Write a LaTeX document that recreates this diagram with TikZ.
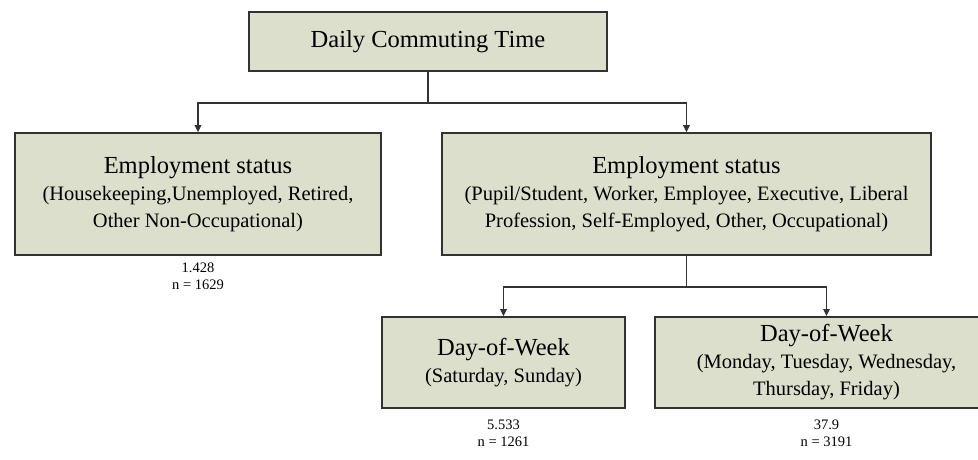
\documentclass[tikz,border=0pt]{standalone}
\usepackage{fontspec}
\setmainfont{Liberation Serif}
\usetikzlibrary{arrows.meta}
\definecolor{boxfill}{RGB}{221,223,205}
\definecolor{boxline}{RGB}{50,50,50}
\tikzset{
  boxshape/.style={draw=boxline, line width=1.6pt, fill=boxfill},
  box/.style={boxshape, align=center, inner sep=0pt,
    font=\fontsize{20.5}{27}\selectfont},
  boxtext/.style={align=center, inner sep=0pt,
    font=\fontsize{20.5}{27}\selectfont},
  conn/.style={draw=boxline, line width=1.4pt},
  arr/.style={conn, -{Triangle[length=7pt,width=6.5pt]}},
  stat/.style={align=center, inner sep=0pt, font=\fontsize{14.5}{17}\selectfont}
}
\begin{document}
\begin{tikzpicture}[x=1pt, y=-1pt]
\useasboundingbox[fill=white] (0,0) rectangle (978,459);

% root of the tree
\node[box, minimum width=358pt, minimum height=59pt, font=\fontsize{24.5}{27}\selectfont]
  (root) at (428,41.5) {Daily Commuting Time};

% first split: employment status
\node[box, minimum width=366pt, minimum height=122pt] (nonocc) at (198,194)
  {{\fontsize{24.5}{27}\selectfont Employment status}\\
   (Housekeeping,Unemployed, Retired,\\ Other Non-Occupational)};
\node[box, minimum width=489pt, minimum height=122pt] (occ) at (686.5,194)
  {{\fontsize{24.5}{27}\selectfont Employment status}\\
   (Pupil/Student, Worker, Employee, Executive, Liberal\\
   Profession, Self-Employed, Other, Occupational)};

% second split: day of week
\node[box, minimum width=243pt, minimum height=91pt] (weekend) at (503.5,362.5)
  {{\fontsize{24.5}{27}\selectfont Day-of-Week}\\ (Saturday, Sunday)};
% weekday box runs past the right margin
\path[boxshape] (655,317) rectangle (1010,408);
\node[boxtext, minimum width=343pt, minimum height=91pt] (weekday) at (826.5,362.5)
  {{\fontsize{24.5}{25}\selectfont Day-of-Week}\\
   (Monday, Tuesday, Wednesday,\\ Thursday, Friday)};

% leaf statistics
\node[stat] (s1) at (198,276) {1.428\\ n = 1629};
\node[stat] (s2) at (503.5,433) {5.533\\ n = 1261};
\node[stat] (s3) at (826.5,433) {37.9\\ n = 3191};

% connectors (canvas yshift is upward, so negative moves down)
\coordinate (j1) at ([yshift=-31pt]root.south);
\draw[conn] (root.south) -- (j1);
\draw[arr] (j1) -| (nonocc.north);
\draw[arr] (j1) -| (occ.north);
\coordinate (j2) at ([yshift=-31pt]occ.south);
\draw[conn] (occ.south) -- (j2);
\draw[arr] (j2) -| (weekend.north);
\draw[arr] (j2) -| ([yshift=0.8pt]weekday.north);
\end{tikzpicture}
\end{document}
